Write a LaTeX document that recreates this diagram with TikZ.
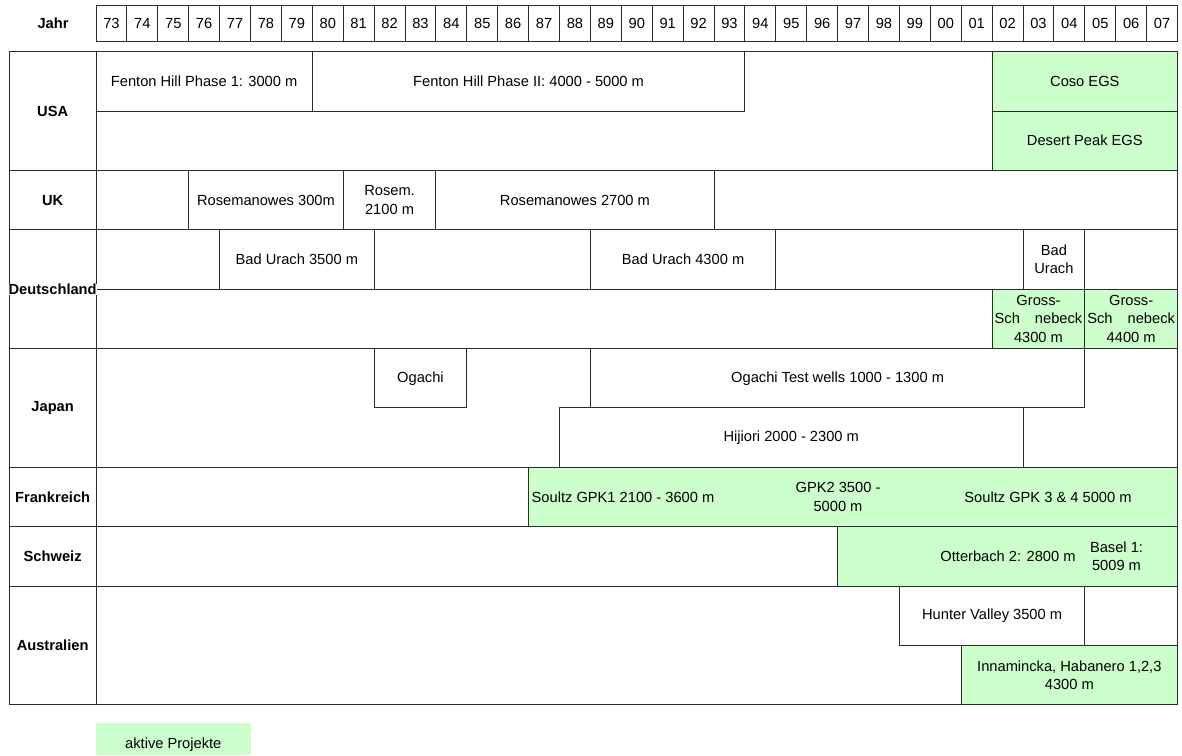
\documentclass[tikz,border=0pt]{standalone}
\usepackage{fontspec}
\setmainfont{Liberation Sans}
\definecolor{aktiv}{HTML}{CCFFCC}
\definecolor{rulecol}{HTML}{2A2A2A}
\newcommand\fsz{\fontsize{14.67}{18.5}\selectfont}
\tikzset{
  frame/.style={draw=rulecol, line width=1pt, inner sep=0pt, outer sep=0pt, align=center, font=\fsz},
  plainbox/.style={frame, fill=white},
  activebox/.style={frame, fill=aktiv},
  yearbox/.style={draw=rulecol, line width=1pt, inner sep=0pt, outer sep=0pt, font=\fsz, text height=10.5pt, text depth=0pt},
  lab/.style={inner sep=0pt, outer sep=0pt, align=center, font=\fsz\bfseries},
  txt/.style={inner sep=0pt, outer sep=0pt, align=center, font=\fsz},
}
% name, k1, k2, ytop, ybottom, style, text
\newcommand\gridcell[7]{%
  \node[#6, anchor=north west, minimum width={(#3-#2)*30.9pt}, minimum height={(#5-#4)*1pt}] (#1) at ({96+30.9*#2},#4) {#7};}
\newcommand\countrycell[4]{%
  \node[frame, anchor=north west, minimum width=86.7pt, minimum height={(#3-#2)*1pt}] (c#1) at (9.3,#2) {};
  \node[lab] (l#1) at (c#1.center) {#4};}
\begin{document}
\begin{tikzpicture}[x=1pt,y=-1pt]
\useasboundingbox (0,0) rectangle (1182,755);
\fill[white] (0,0) rectangle (1182,755);

% header
\node[lab] (jahr) at (53,23) {Jahr};
\foreach \yr [count=\i from 0] in {73,74,75,76,77,78,79,80,81,82,83,84,85,86,87,88,89,90,91,92,93,94,95,96,97,98,99,00,01,02,03,04,05,06,07}
  {\node[yearbox, anchor=north west, minimum width=30.9pt, minimum height=36pt] (y\yr) at ({96+30.9*\i},5) {\yr};}

% row frames
\gridcell{rUSA}{0}{35}{51.7}{170.4}{frame}{}
\gridcell{rUK}{0}{35}{170.4}{229.8}{frame}{}
\gridcell{rDE}{0}{35}{229.8}{348.5}{frame}{}
\gridcell{rJP}{0}{35}{348.5}{467.2}{frame}{}
\gridcell{rFR}{0}{35}{467.2}{526.6}{frame}{}
\gridcell{rCH}{0}{35}{526.6}{586.0}{frame}{}
\gridcell{rAU}{0}{35}{586.0}{704.7}{frame}{}

% country cells
\countrycell{USA}{51.7}{170.4}{USA}
\countrycell{UK}{170.4}{229.8}{UK}
\countrycell{JP}{348.5}{467.2}{Japan}
\countrycell{FR}{467.2}{526.6}{Frankreich}
\countrycell{CH}{526.6}{586.0}{Schweiz}
\countrycell{AU}{586.0}{704.7}{Australien}
\node[frame, anchor=north west, minimum width=86.7pt, minimum height=118.7pt] (cDE) at (9.3,229.8) {};

% USA
\gridcell{fh1}{0}{7}{51.7}{111.1}{plainbox}{Fenton Hill Phase 1: 3000 m}
\gridcell{fh2}{7}{21}{51.7}{111.1}{plainbox}{Fenton Hill Phase II: 4000 - 5000 m}
\gridcell{coso}{29}{35}{51.7}{111.1}{activebox}{Coso EGS}
\gridcell{desert}{29}{35}{111.1}{170.4}{activebox}{Desert Peak EGS}

% UK
\gridcell{uk0}{0}{3}{170.4}{229.8}{plainbox}{}
\gridcell{ros1}{3}{8}{170.4}{229.8}{plainbox}{Rosemanowes 300m}
\gridcell{ros2}{8}{11}{170.4}{229.8}{plainbox}{Rosem.\\2100 m}
\gridcell{ros3}{11}{20}{170.4}{229.8}{plainbox}{Rosemanowes 2700 m}

% Deutschland
\gridcell{de0}{0}{4}{229.8}{289.1}{plainbox}{}
\gridcell{bu1}{4}{9}{229.8}{289.1}{plainbox}{Bad Urach 3500 m}
\gridcell{de1}{9}{16}{229.8}{289.1}{plainbox}{}
\gridcell{bu2}{16}{22}{229.8}{289.1}{plainbox}{Bad Urach 4300 m}
\gridcell{de2}{22}{30}{229.8}{289.1}{plainbox}{}
\gridcell{bu3}{30}{32}{229.8}{289.1}{plainbox}{Bad\\Urach}
\gridcell{de3}{32}{35}{229.8}{289.1}{plainbox}{}
\gridcell{de4}{0}{29}{289.1}{348.5}{plainbox}{}
\gridcell{gs1}{29}{32}{289.1}{348.5}{activebox}{Gross-\\Sch\hspace{15pt}nebeck\\4300 m}
\gridcell{gs2}{32}{35}{289.1}{348.5}{activebox}{Gross-\\Sch\hspace{15pt}nebeck\\4400 m}
\node[lab, fill=white] (lDE) at (cDE.center) {Deutschland};

% Japan
\gridcell{oga}{9}{12}{348.5}{407.9}{plainbox}{Ogachi}
\gridcell{ogt}{16}{32}{348.5}{407.9}{plainbox}{Ogachi Test wells 1000 - 1300 m}
\gridcell{hij}{15}{30}{407.9}{467.2}{plainbox}{Hijiori 2000 - 2300 m}

% Frankreich
\gridcell{soultz}{14}{35}{467.2}{526.6}{activebox}{}
\node[txt] (gpk1) at (623,496.9) {Soultz GPK1 2100 - 3600 m};
\node[txt] (gpk2) at (838,496.9) {GPK2 3500 -\\5000 m};
\node[txt] (gpk34) at (1048,496.9) {Soultz GPK 3 \& 4 5000 m};

% Schweiz
\gridcell{otter}{24}{35}{526.6}{586.0}{activebox}{}
\node[txt] (ott) at (1008,556.3) {Otterbach 2: 2800 m};
\node[txt] (basel) at (1116.5,556.3) {Basel 1:\\5009 m};

% Australien
\gridcell{hun}{26}{32}{586.0}{645.3}{plainbox}{Hunter Valley 3500 m}
\gridcell{au1}{32}{35}{586.0}{645.3}{plainbox}{}
\gridcell{inn}{28}{35}{645.3}{704.7}{activebox}{Innamincka, Habanero 1,2,3\\4300 m}

% legend
\node[fill=aktiv, inner sep=0pt, outer sep=0pt, anchor=north west, minimum width=154.5pt, minimum height=32.3pt] (legend) at (96,722.7) {};
\node[txt] (legendtext) at (173.3,745) {aktive Projekte};
\end{tikzpicture}
\end{document}
